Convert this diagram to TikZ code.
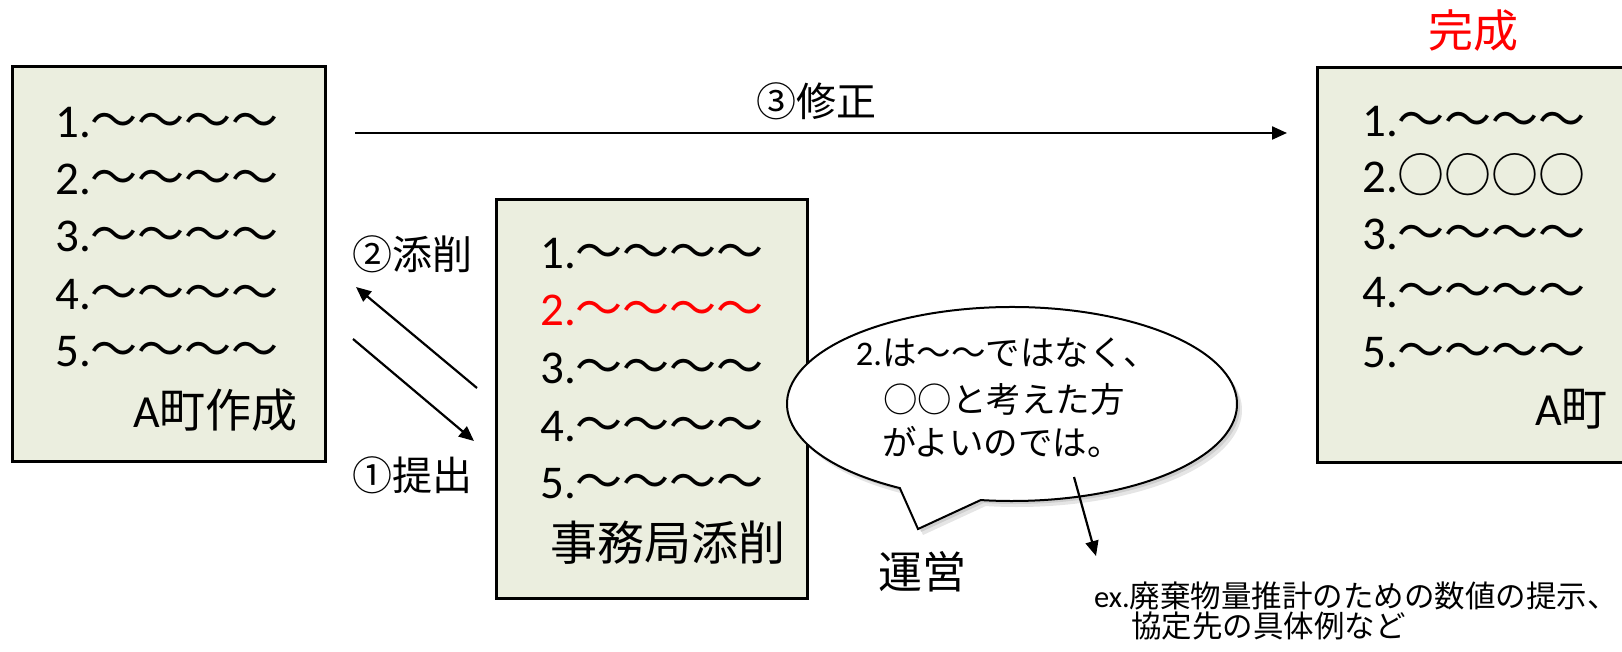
\documentclass[tikz,border=0pt]{standalone}
\usepackage{fontspec}
\setmainfont{Noto Sans CJK JP}
\newfontfamily\lat{Carlito}
\usetikzlibrary{arrows.meta,calc}
\definecolor{docfill}{RGB}{235,238,223}
\definecolor{pred}{RGB}{255,0,0}
\begin{document}
\begin{tikzpicture}[x=1pt,y=-1pt,
  docbox/.style={draw=black, line width=3pt, fill=docfill, inner sep=0pt},
  listline/.style={anchor=base west, inner sep=0pt, font=\fontsize{47}{47}\selectfont},
  lbl/.style={anchor=base west, inner sep=0pt, font=\fontsize{40}{40}\selectfont},
  boxlbl/.style={anchor=base west, inner sep=0pt, font=\fontsize{46}{46}\selectfont},
  btext/.style={anchor=base, inner sep=0pt, font=\fontsize{34.5}{34.5}\selectfont},
  note/.style={anchor=base west, inner sep=0pt, font=\fontsize{30.5}{30.5}\selectfont},
  conn/.style={line width=2.2pt, -{Triangle[length=15pt,width=13pt]}},
]
\useasboundingbox (0,0) rectangle (1622,652);
\clip (0,0) rectangle (1622,652);

% boxes
\node[docbox, minimum width=313pt, minimum height=394pt] (boxA) at (168.5,264) {};
\node[docbox, minimum width=311pt, minimum height=398pt] (boxB) at (651.5,399) {};
\node[docbox, minimum width=313pt, minimum height=394pt] (boxC) at (1473.5,265) {};

% box A text
\foreach \n/\yy in {1/138,2/195,3/252,4/309,5/366}
  \node[listline] (a\n) at (55,\yy) {{\lat \n.}～～～～};
\node[boxlbl] (aname) at (133,427) {{\lat A}町作成};

% box B text
\node[listline] (b1) at (540,269) {{\lat 1.}～～～～};
\node[listline, text=pred] (b2) at (540,326) {{\lat 2.}～～～～};
\node[listline] (b3) at (540,383) {{\lat 3.}～～～～};
\node[listline] (b4) at (540,441) {{\lat 4.}～～～～};
\node[listline] (b5) at (540,498) {{\lat 5.}～～～～};
\node[boxlbl, font=\fontsize{47}{47}\selectfont] (bname) at (550,560) {事務局添削};

% box C text
\node[listline] (c1) at (1362,137) {{\lat 1.}～～～～};
\node[listline] (c2) at (1362,193) {{\lat 2.}○○○○};
\node[listline] (c3) at (1362,250) {{\lat 3.}～～～～};
\node[listline] (c4) at (1362,308) {{\lat 4.}～～～～};
\node[listline] (c5) at (1362,367) {{\lat 5.}～～～～};
\node[boxlbl] (cname) at (1535,425) {{\lat A}町};
\node[boxlbl, text=pred, font=\fontsize{45}{45}\selectfont] (done) at (1428,48) {完成};

% arrows and labels
\coordinate (r1s) at (355,133);
\coordinate (r1e) at (1287,133);
\draw[conn] (r1s) -- (r1e);
\node[lbl, anchor=base] (l3) at (816,117) {③修正};

\coordinate (r2s) at (477,388);
\coordinate (r2e) at (356,287);
\draw[conn] (r2s) -- (r2e);
\node[lbl] (l2) at (352,270) {②添削};

\coordinate (r3s) at (353,339);
\coordinate (r3e) at (474,441);
\draw[conn] (r3s) -- (r3e);
\node[lbl] (l1) at (352,490) {①提出};

% balloon
\coordinate (bc) at (1012,404);
\coordinate (btip) at (918,529);
\fill[black, opacity=0.10, transform canvas={shift={(5,6)}}]
  ($(bc)+(98:225 and 97)$) -- (btip) -- ($(bc)+(119.9:225 and 97)$)
  arc[start angle=119.9, end angle=458, x radius=225, y radius=97] -- cycle;
\fill[black, opacity=0.10, transform canvas={shift={(3,3)}}]
  ($(bc)+(98:225 and 97)$) -- (btip) -- ($(bc)+(119.9:225 and 97)$)
  arc[start angle=119.9, end angle=458, x radius=225, y radius=97] -- cycle;
\draw[line width=2pt, fill=white, line join=miter]
  ($(bc)+(98:225 and 97)$) -- (btip) -- ($(bc)+(119.9:225 and 97)$)
  arc[start angle=119.9, end angle=458, x radius=225, y radius=97] -- cycle;
\node[btext] (t1) at (1007,365) {{\lat 2.}は～～ではなく、};
\node[btext] (t2) at (1004,412) {○○と考えた方};
\node[btext] (t3) at (1002,455) {がよいのでは。};

\node[boxlbl, font=\fontsize{44}{44}\selectfont] (unei) at (878,588) {運営};

\coordinate (r4s) at (1074,477);
\coordinate (r4e) at (1096,556);
\draw[conn] (r4s) -- (r4e);

\node[note] (ex1) at (1094,607) {{\lat ex.}廃棄物量推計のための数値の提示、};
\node[note] (ex2) at (1131,637) {協定先の具体例など};
\end{tikzpicture}
\end{document}
